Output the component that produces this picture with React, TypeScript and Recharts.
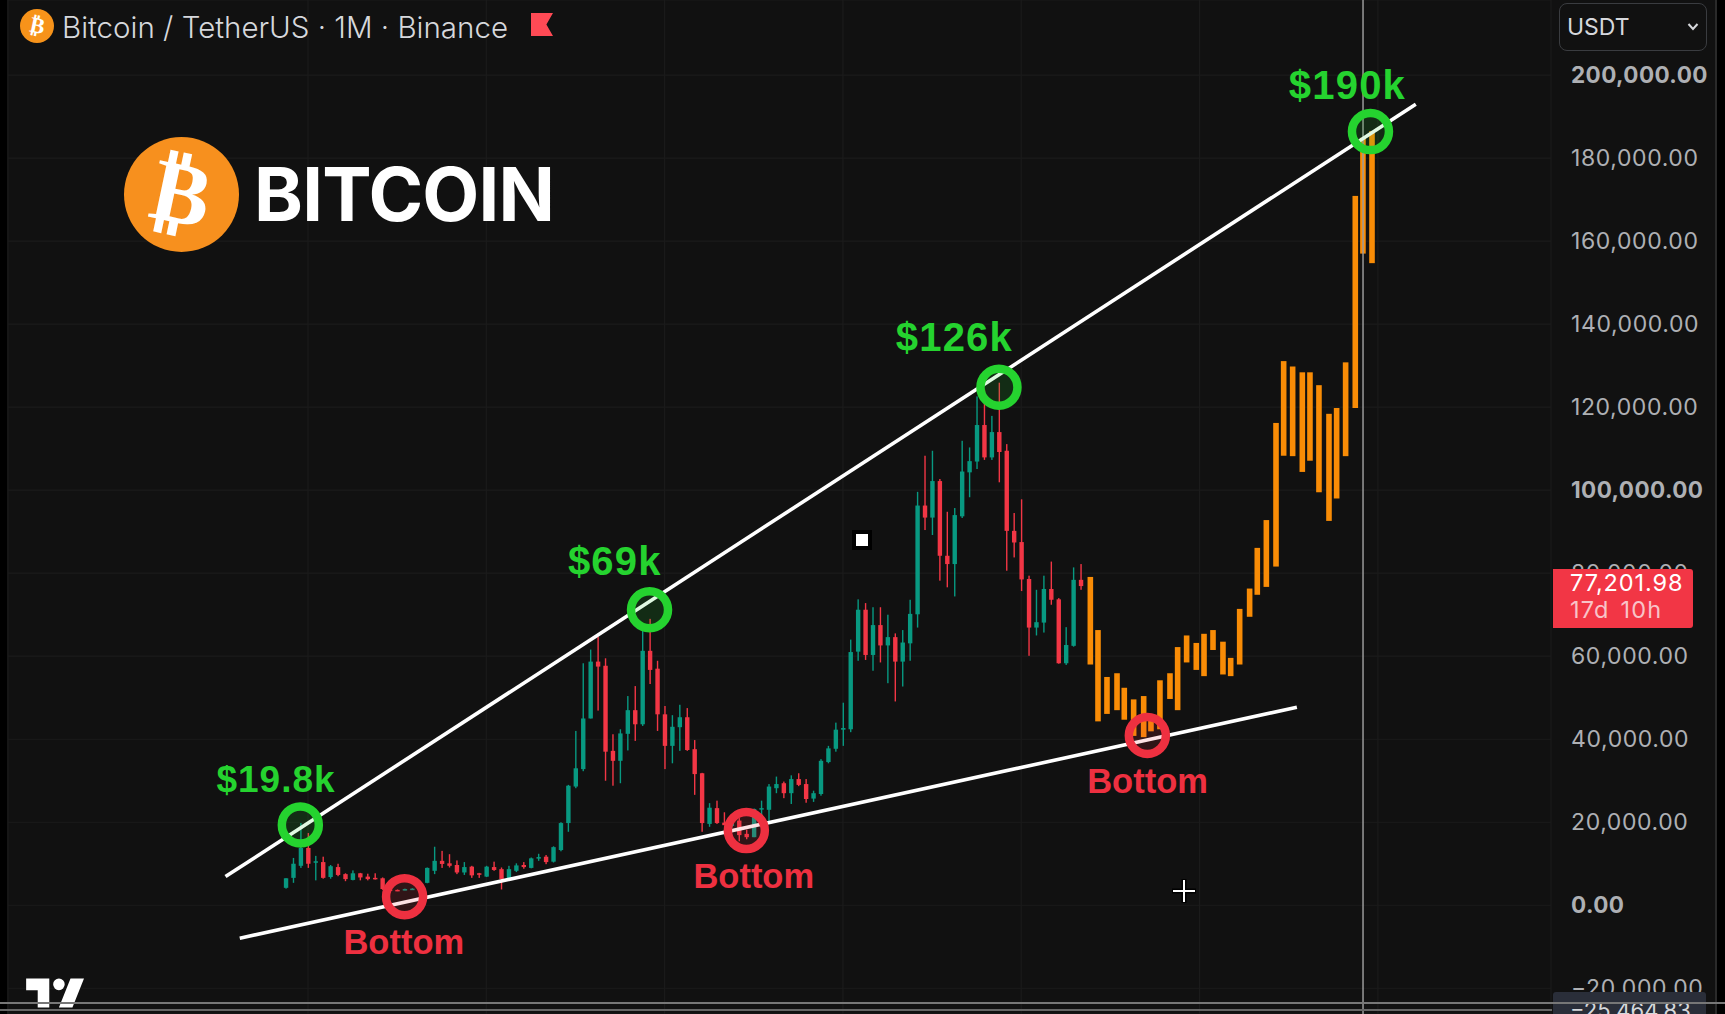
import { ComposedChart, Bar, XAxis, YAxis, CartesianGrid, ReferenceLine, ReferenceDot } from 'recharts';

// prices are in thousands of USDT, one candle per month
const opens = [
  4.2, 6.6, 9.5, 13.8, 10.3, 10.4, 6.8, 9.2, 7.5, 6.1,
  7.7, 6.9, 6.6, 6.5, 3.8, 3.7, 3.8, 3.9, 3.9, 5.4,
  8.3, 10.7, 10.1, 9.7, 7.9, 9.3, 7.7, 6.9, 9.2, 8.7,
  6.3, 8.3, 9.7, 9.0, 11.5, 11.7, 10.5, 13.3, 19.8, 28.6,
  32.8, 45, 58.7, 57.7, 37.2, 34.8, 41.3, 47, 43.6, 61.3,
  57, 46, 38.4, 42.9, 45.3, 37.6, 31.8, 19.6, 23.4, 19.9,
  19.1, 20.4, 17.2, 16.4, 23.2, 23, 28.2, 29.4, 27, 30.4,
  29.2, 25.7, 26.8, 34.5, 37.7, 42.3, 42.4, 61.1, 71.2, 60.3,
  67.5, 62.6, 64.6, 58.7, 63.1, 70.1, 96.3, 93.4, 102.2, 84.2,
  82.2, 93.7, 104.3, 106.9, 115.7, 107.9, 114, 109.5, 90.2, 87.5,
  78.6, 66.9, 68.1, 76.2, 73.7, 58.3, 62.5, 78.4,
];
const closes = [
  6.5, 10, 13.8, 10, 10.6, 6.6, 9.4, 7.3, 6.3, 7.7,
  6.7, 6.3, 6.4, 3.9, 3.5, 3.5, 3.9, 4, 5.3, 9,
  10.7, 9.95, 9.5, 7.9, 9.2, 7.2, 7.4, 9.3, 8.5, 6.3,
  8.7, 9.6, 9.2, 11.3, 11.6, 10.4, 14, 19.8, 28.8, 33,
  45, 58.7, 57.5, 37, 34.8, 41.4, 47, 43.6, 61.3, 56.7,
  46, 38.4, 43, 45.3, 37.4, 31.6, 19.8, 23.5, 19.8, 19.3,
  20.4, 16.9, 16.4, 23.2, 23.4, 28.6, 29.2, 27, 30.4, 29,
  25.6, 27, 34.8, 37.8, 42.3, 42.7, 61, 71.2, 60.3, 67.5,
  62.6, 64.6, 58.7, 63.3, 70.2, 96.3, 93.4, 102.2, 84.2, 82.2,
  94, 104.5, 107, 115.7, 107.9, 114, 109.2, 90.2, 87.4, 78.5,
  66.9, 68.2, 76.2, 73.6, 58.3, 62.7, 78.4, 76.9,
];
const highs = [
  6.5, 11.4, 19.8, 17.4, 11.9, 11.7, 9.7, 10, 7.7, 8.4,
  7.8, 7.6, 7.7, 6.7, 3.9, 3.8, 4, 4.1, 5.5, 9.1,
  14.1, 13.1, 12.3, 10.8, 10.4, 9.5, 7.8, 9.5, 10.5, 9.1,
  9.5, 10.1, 10.4, 11.5, 12.4, 12.1, 14.2, 20, 29, 42,
  58.3, 61.6, 64.7, 59.5, 41.2, 42.4, 50.4, 52.8, 66.7, 69,
  58.9, 48, 45.8, 48.3, 47.5, 39.8, 31.9, 24.6, 25.2, 22.4,
  21, 21, 18.2, 23.3, 25.2, 29.2, 31, 29.8, 31.3, 31.8,
  30.4, 27.6, 35.2, 38.4, 44, 48.8, 64, 73.7, 72.8, 71.8,
  71.8, 70, 65.5, 66.3, 73.6, 99.6, 108.3, 109.5, 102.7, 94.8,
  95.7, 111.9, 110.3, 122.6, 124.2, 117.9, 125.9, 111.1, 94.5, 97.8,
  79.4, 76, 79.4, 82.8, 74, 67, 81.4, 82.2,
];
const lows = [
  4, 5.4, 9, 9, 6, 6.4, 6.4, 7, 5.8, 6,
  6, 6, 6.2, 3.7, 3.3, 3.4, 3.6, 3.8, 3.8, 5.3,
  7.5, 9, 9.1, 7.5, 7.3, 6.6, 6.6, 6.8, 8.3, 3.8,
  6.1, 8, 8.8, 8.9, 10.7, 9.9, 10.3, 13, 17.7, 28.2,
  32.3, 45, 46.9, 30, 28.8, 29.4, 37.3, 39.6, 43.2, 53.3,
  42, 32.8, 34.2, 37.2, 37.2, 26.6, 17.7, 18.9, 19.6, 19.3,
  18.7, 15.4, 15.9, 16.4, 18.9, 19.8, 27, 25.8, 24.4, 28.7,
  24.7, 24.9, 26.4, 34.2, 37, 38.4, 41.7, 58.9, 59.1, 56.5,
  58.5, 53.5, 49.1, 52.7, 58.9, 66.9, 90.4, 89.2, 78.2, 76.6,
  74.4, 93.3, 98.3, 105.1, 107.3, 107.3, 101.9, 80.6, 83.8, 75.7,
  60.1, 65, 65.7, 72.4, 58.2, 57.9, 62.3, 76,
];

// the orange bars pasted on as a projection, read bar by bar
const projMonths = [
  108.25, 109.28, 110.49, 111.84, 112.82, 114.08, 115.43, 116.41, 117.62, 118.97, 120,
  121.21, 122.51, 123.55, 124.76, 126.1, 127.14, 128.35, 129.69, 130.72, 131.94, 133.24,
  134.27, 135.48, 136.78, 137.81, 139.02, 140.37, 141.4, 142.61, 143.91, 144.94, 146.16,
];
const projHighs = [
  79.1, 66.3, 55, 55.9, 52.4, 49.6, 50.4, 44.5, 54.2, 55.9, 62.2,
  65, 63.2, 65.4, 66.3, 63.5, 59.6, 71.4, 76.3, 86.1, 92.8, 116.2,
  131.1, 129.8, 128.4, 128.4, 125.3, 118.4, 119.8, 130.8, 170.9, 184.9, 186.5,
];
const projLows = [
  58, 44.3, 46.1, 47, 44.7, 40.8, 40.5, 41.9, 42.4, 49.7, 47,
  58.5, 56.7, 55.2, 61.5, 55.6, 55.2, 58, 69.5, 74.8, 76.7, 81.6,
  108.3, 108.2, 104.4, 107.1, 99.5, 92.6, 98, 108.2, 119.8, 157, 154.7,
];

const priceTicks = [200, 180, 160, 140, 120, 100, 80, 60, 40, 20, 0, -20];
const boldTicks = [200, 100, 0];
const yearTicks = [3, 27, 51, 75, 99, 123, 147];

const peaks = [
  { t: 1.97, v: 19.35, label: '$19.8k', lt: -1.3, lv: 30.4 },
  { t: 48.97, v: 71.2, label: '$69k', lt: 44.3, lv: 83 },
  { t: 96, v: 124.8, label: '$126k', lt: 90, lv: 137 },
  { t: 146, v: 186.4, label: '$190k', lt: 142.9, lv: 197.7 },
];
const bottoms = [
  { t: 16, v: 2.07, label: 'Bottom', lt: 15.9, lv: -8.7 },
  { t: 62, v: 18, label: 'Bottom', lt: 63, lv: 7.2 },
  { t: 115.97, v: 40.9, label: 'Bottom', lt: 116, lv: 30 },
];
const upperLine = [{ x: -8.1, y: 6.9 }, { x: 152.1, y: 193 }];
const lowerLine = [{ x: -6.18, y: -7.95 }, { x: 136.1, y: 47.7 }];

const rows = [
  ...opens.map((open, i) => ({ t: i, open, close: closes[i], high: highs[i], low: lows[i], proj: false })),
  ...projHighs.map((high, i) => ({ t: projMonths[i], open: projLows[i], close: high, high, low: projLows[i], proj: true })),
];

const UP = '#089981';
const DOWN = '#F23645';
const ORANGE = '#F98C06';
const GREEN = '#25D32F';
const RED = '#EE3040';
const FONT = 'Inter, sans-serif';

function Candle(props: any) {
  const { x, y, width, height, payload } = props;
  const cx = x + width / 2;
  if (payload.proj) {
    return <rect x={cx - 2.8} y={y} width={5.6} height={height} fill={ORANGE} />;
  }
  const perUnit = height / (payload.high - payload.low);
  const top = y + (payload.high - Math.max(payload.open, payload.close)) * perUnit;
  const bodyH = Math.max(Math.abs(payload.open - payload.close) * perUnit, 1.5);
  const color = payload.close >= payload.open ? UP : DOWN;
  return (
    <g>
      <rect x={cx - 0.7} y={y} width={1.4} height={height} fill={color} />
      <rect x={cx - 2.2} y={top} width={4.4} height={bodyH} fill={color} />
    </g>
  );
}

function PriceTick(props: any) {
  const { y, payload } = props;
  const v = payload.value;
  const bold = boldTicks.includes(v);
  const text = (v < 0 ? '\u2212' : '') + Math.abs(v * 1000).toLocaleString('en-US', { minimumFractionDigits: 2 });
  return (
    <text x={1571} y={y + (bold ? 8 : 7.5)} fontFamily={FONT} fontSize={bold ? 22.5 : 23} letterSpacing={bold ? 0.4 : 0.6} fill="#aeb0b4"
      fontWeight={bold ? 700 : 400}>
      {text}
    </text>
  );
}

const calloutLabel = (value: string, fill: string, fontSize: number, letterSpacing: number) => ({
  value,
  fill,
  fontSize,
  letterSpacing,
  fontWeight: 700,
  fontFamily: '"Liberation Sans", Arial, sans-serif',
  position: 'center' as const,
});

export default function App() {
  return (
    <div style={{ position: 'fixed', left: 0, top: 0, width: 1725, height: 1014, background: '#000', overflow: 'hidden' }}>
      <div style={{ position: 'absolute', left: 7, top: 0, width: 1709, height: 1014, background: '#111111' }} />
      <div style={{ position: 'absolute', left: 1715, top: 0, width: 2, height: 1014, background: '#2a2a2a' }} />

      <div style={{ position: 'absolute', left: 0, top: 0 }}>
        <ComposedChart width={1725} height={1014} data={rows} margin={{ top: 0, right: 0, left: 8, bottom: 0 }}>
          <CartesianGrid stroke="#1b1b1b" strokeWidth={1.2} />
          <XAxis type="number" dataKey="t" domain={[-37.375, 170.3]} ticks={yearTicks} hide allowDataOverflow />
          <YAxis orientation="right" width={174} domain={[-26.2, 218.1]} ticks={priceTicks} interval={0}
            axisLine={false} tickLine={false} tick={PriceTick} allowDataOverflow />
          <Bar dataKey={(d: any) => [d.low, d.high]} barSize={6} shape={Candle} isAnimationActive={false} />
          <ReferenceLine x={145} stroke="#9a9a9a" strokeWidth={1.5} />
          <ReferenceLine segment={upperLine} stroke="#fff" strokeWidth={3.6} ifOverflow="visible" />
          <ReferenceLine segment={lowerLine} stroke="#fff" strokeWidth={3.6} ifOverflow="visible" />
          {peaks.map((p) => (
            <ReferenceDot key={p.label} x={p.t} y={p.v} r={18.5} fill={GREEN} fillOpacity={0.14} stroke={GREEN} strokeWidth={8.5} />
          ))}
          {bottoms.map((p) => (
            <ReferenceDot key={p.t} x={p.t} y={p.v} r={18.5} fill={RED} fillOpacity={0.14} stroke={RED} strokeWidth={8.5} />
          ))}
          {peaks.map((p) => (
            <ReferenceDot key={p.label + 'l'} x={p.lt} y={p.lv} r={0} fill="none" stroke="none"
              label={p.label.includes('.') ? calloutLabel(p.label, GREEN, 37, 1) : calloutLabel(p.label, GREEN, 40, 1.2)} />
          ))}
          {bottoms.map((p) => (
            <ReferenceDot key={p.t + 'l'} x={p.lt} y={p.lv} r={0} fill="none" stroke="none" label={calloutLabel(p.label, RED, 34.5, 0)} />
          ))}
        </ComposedChart>
      </div>

      {/* header */}
      <div style={{ position: 'absolute', left: 20, top: 9, width: 34, height: 34, borderRadius: 17, background: '#F7931A', color: '#fff', textAlign: 'center', lineHeight: '34px', fontFamily: 'DejaVu Sans', fontWeight: 700, fontSize: 22 }}>
        <span style={{ display: 'inline-block', transform: 'rotate(12deg)' }}>₿</span>
      </div>
      <div style={{ position: 'absolute', left: 62, top: 10, fontFamily: FONT, fontWeight: 300, fontSize: 29.5, lineHeight: '34px', color: '#d6d8dc', whiteSpace: 'nowrap' }}>
        Bitcoin / TetherUS · 1M · Binance
      </div>
      <div style={{ position: 'absolute', left: 531, top: 13, width: 22, height: 23, background: '#FF4A55', clipPath: 'polygon(0 0, 100% 0, 70% 50%, 100% 100%, 0 100%)' }} />

      {/* logo */}
      <div style={{ position: 'absolute', left: 124, top: 137, width: 115, height: 115, borderRadius: 58, background: '#F7901E', color: '#fff', textAlign: 'center', lineHeight: '112px', fontFamily: 'DejaVu Sans', fontWeight: 700, fontSize: 88 }}>
        <span style={{ display: 'inline-block', transform: 'rotate(12deg)' }}>₿</span>
      </div>
      <div style={{ position: 'absolute', left: 254, top: 150, fontFamily: FONT, fontWeight: 700, fontSize: 74, letterSpacing: -0.8, lineHeight: '88px', color: '#fff', whiteSpace: 'nowrap' }}>
        BITCOIN
      </div>

      {/* currency select */}
      <div style={{ position: 'absolute', left: 1559, top: 3, width: 146, height: 46, border: '1.5px solid #3a3c40', borderRadius: 8 }} />
      <div style={{ position: 'absolute', left: 1567, top: 10, fontFamily: FONT, fontSize: 23, lineHeight: '34px', color: '#d6d8dc' }}>USDT</div>
      <svg style={{ position: 'absolute', left: 1687, top: 22 }} width={12} height={10}>
        <path d="M1.5 2 L6 7 L10.5 2" fill="none" stroke="#d6d8dc" strokeWidth={2} />
      </svg>

      {/* price tags */}
      <div style={{ position: 'absolute', left: 1553, top: 569, width: 140, height: 59, background: '#F23645', borderRadius: '0 3px 3px 0', fontFamily: FONT, fontSize: 23.5, lineHeight: '27px', paddingLeft: 17, boxSizing: 'border-box', whiteSpace: 'nowrap' }}>
        <div style={{ color: '#fff', letterSpacing: 0.9 }}>77,201.98</div>
        <div style={{ color: '#f8c3c8', letterSpacing: 1.2, wordSpacing: 3 }}>17d 10h</div>
      </div>
      <div style={{ position: 'absolute', left: 1553, top: 992, width: 153, height: 22, background: '#2a2e39', borderRadius: '3px 3px 0 0', fontFamily: FONT, fontSize: 22, lineHeight: '37px', paddingLeft: 17, boxSizing: 'border-box', color: '#d6d8dc', overflow: 'hidden' }}>
        −25,464.83
      </div>

      {/* tradingview mark */}
      <svg style={{ position: 'absolute', left: 22, top: 967 }} width={70} height={54} viewBox="0 0 36 28">
        <path fill="#fff" d="M14 6H2v6h6v9h6V6Zm12 15h-7l6-15h7l-6 15Zm-7-9a3 3 0 1 0 0-6 3 3 0 0 0 0 6Z" />
      </svg>

      {/* window chrome at the bottom */}
      <div style={{ position: 'absolute', left: 0, top: 1002, width: 1725, height: 2, background: '#777' }} />
      <div style={{ position: 'absolute', left: 0, top: 1009, width: 1552, height: 2, background: '#666' }} />

      {/* selection handle and crosshair cursor */}
      <div style={{ position: 'absolute', left: 852, top: 530, width: 20, height: 20, background: '#000' }} />
      <div style={{ position: 'absolute', left: 856, top: 534, width: 12, height: 12, background: '#fff' }} />
      <svg style={{ position: 'absolute', left: 1171, top: 878 }} width={26} height={26}>
        <path d="M13 1V25M1 13H25" stroke="#000" strokeWidth={5} />
        <path d="M13 2V24M2 13H24" stroke="#fff" strokeWidth={2} />
      </svg>
    </div>
  );
}
